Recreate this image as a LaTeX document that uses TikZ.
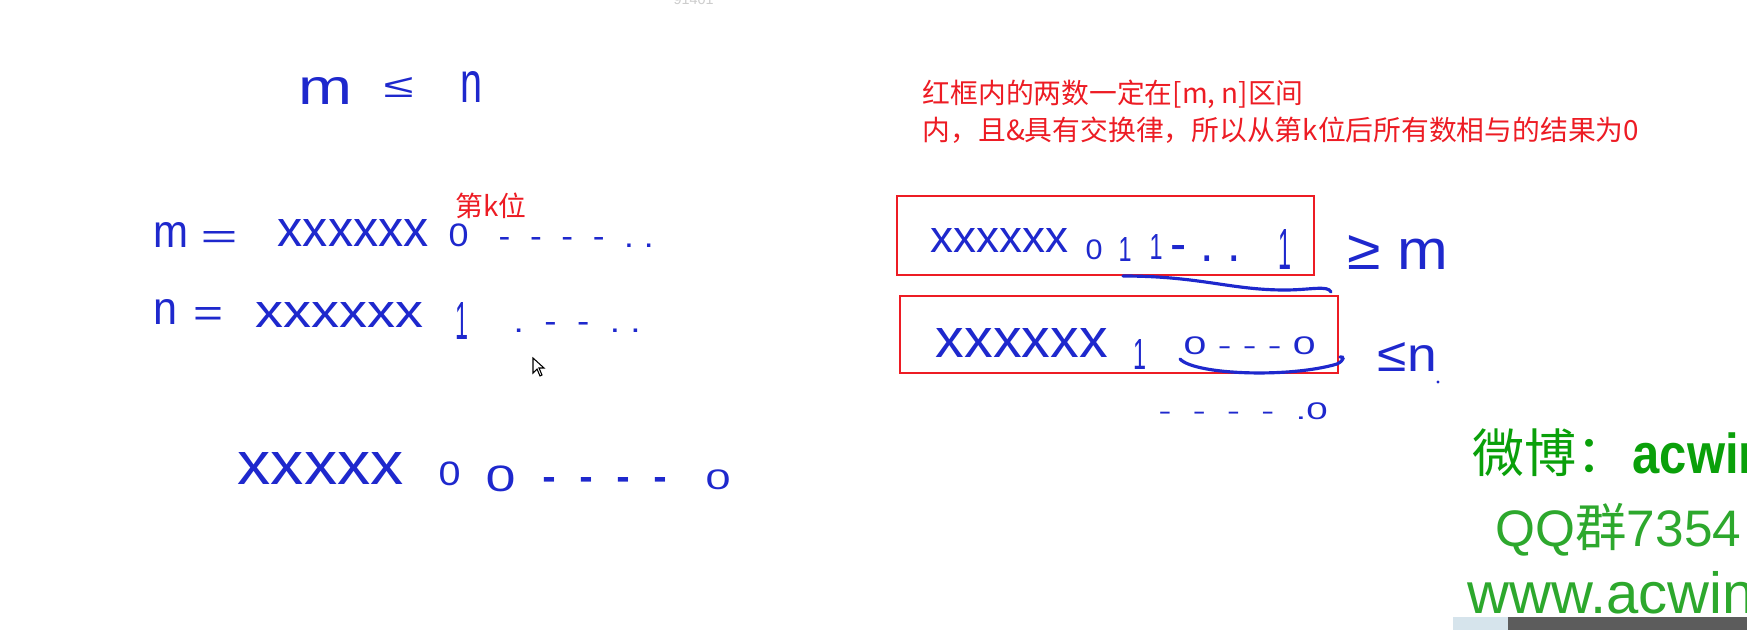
\documentclass[tikz,border=0pt]{standalone}
\usepackage{fontspec}
\setmainfont{Liberation Sans}
\newfontfamily\cjkfont{Noto Sans CJK SC}
\newfontfamily\handfont{Liberation Sans}
\usepackage{graphicx}
\usepackage{xcolor}
\usepackage{tikz}
\usetikzlibrary{positioning}
\definecolor{penblue}{RGB}{30,40,205}
\definecolor{notered}{RGB}{237,28,36}
\definecolor{markgreen}{RGB}{10,160,10}
\definecolor{markgreen2}{RGB}{45,168,45}
\definecolor{stampgray}{RGB}{205,205,205}
\definecolor{barlight}{RGB}{214,228,236}
\definecolor{bardark}{RGB}{92,92,92}
\newlength{\pxu}
\setlength{\pxu}{0.01cm}
\newcommand{\hw}[3]{\resizebox*{#1\pxu}{#2\pxu}{#3}}
\tikzset{
  pen/.style={text=penblue, font=\handfont, inner sep=0pt, anchor=south west},
  stroke/.style={draw=penblue, line width=0.9pt, line cap=round},
  redframe/.style={draw=notered, line width=0.8pt},
  note/.style={text=notered, font=\cjkfont\fontsize{7.9pt}{10pt}\selectfont,
    inner sep=0pt, anchor=base west},
  wmark/.style={text=markgreen, inner sep=0pt, anchor=base west},
}

\begin{document}
\begin{tikzpicture}[x=0.01cm, y=-0.01cm]
  \useasboundingbox (0,0) rectangle (1747,630);
  \clip (0,0) rectangle (1747,630);
  \fill[white] (0,0) rectangle (1747,630);
  \node[pen, text=stampgray] (stamp) at (673,5) {\hw{40}{10}{91401}};
  % left: m <= n
  \node[pen] (topm) at (298,105) {\hw{54}{27}{m}};
  \node[pen] (topleq) at (383,98) {\hw{30}{20}{≤}};
  \node[pen] (topn) at (460,103) {\hw{22}{31}{n}};
  \node[note] (kbit) at (455,216) {第k位};
  % m row
  \node[pen] (mname) at (153,248) {\hw{35}{25}{m}};
  \node[pen] (meq) at (200,249) {\hw{37}{17}{=}};
  \node[pen] (mhigh) at (277,247) {\hw{151}{27}{xxxxxx}};
  \node[pen] (mzero) at (448,248) {\hw{20}{23}{0}};
  \node[pen] (mtail) at (498,248) {\hw{155}{10}{-\ \ -\ \ -\ \ -\ \ .\ .}};
  % n row
  \node[pen] (nname) at (153,325) {\hw{24}{25}{n}};
  \node[pen] (neq) at (193,327) {\hw{30}{19}{=}};
  \node[pen] (nhigh) at (255,328) {\hw{168}{25}{xxxxxx}};
  \node[pen] (none) at (455,340) {\hw{13}{37}{1}};
  \node[pen] (ntail) at (513,333) {\hw{127}{10}{.\ \ -\ \ -\ \ .\ .}};
  % result row
  \node[pen] (rhigh) at (237,485) {\hw{166}{32}{xxxxx}};
  \node[pen] (rzeroa) at (438,487) {\hw{22}{24}{0}};
  \node[pen] (rzerob) at (485,493) {\hw{30}{26}{0}};
  \node[pen] (rtail) at (542,496) {\hw{125}{18}{-\ \ -\ \ -\ \ -}};
  \node[pen] (rzeroc) at (705,490) {\hw{25}{20}{0}};
  % cursor
  \draw[black, fill=white, line width=0.3pt] (533,358) -- (533,373) -- (537,369)
    -- (540,376) -- (542,375) -- (539,368) -- (544,368) -- cycle;
  % right: note
  \node[note] (notea) at (922,103) {红框内的两数一定在[m, n]区间};
  \node[note] (noteb) at (922,140) {内，且\&具有交换律，所以从第k位后所有数相与的结果为0};
  % upper frame
  \draw[redframe] (897,196) rectangle (1314,275);
  \node[pen] (ahigh) at (930,253) {\hw{138}{24}{xxxxxx}};
  \node[pen] (azero) at (1085,260) {\hw{17}{20}{0}};
  \node[pen] (aonea) at (1118,262) {\hw{13}{24}{1}};
  \node[pen] (aoneb) at (1149,260) {\hw{13}{25}{1}};
  \node[pen] (adots) at (1170,262) {\hw{70}{16}{-\ .\ .}};
  \node[pen] (aonec) at (1278,270) {\hw{13}{40}{1}};
  \node[pen] (ageq) at (1347,270) {\hw{101}{34}{≥ m}};
  \draw[stroke] (1123,276) .. controls (1200,276) and (1230,290) .. (1285,290)
    .. controls (1310,290) and (1328,285) .. (1331,292);
  % lower frame
  \draw[redframe] (900,296) rectangle (1338,373);
  \node[pen] (bhigh) at (935,358) {\hw{172}{29}{xxxxxx}};
  \node[pen] (bone) at (1133,370) {\hw{13}{30}{1}};
  \node[pen] (blow) at (1183,355) {\hw{132}{18}{0\ -\ -\ -\ 0}};
  \node[pen] (bleq) at (1377,372) {\hw{59}{29}{≤n}};
  \fill[penblue] (1438,382) circle (1.6);
  \draw[stroke] (1180,359) .. controls (1195,375) and (1290,378) .. (1337,364)
    .. controls (1345,360) and (1344,356) .. (1340,357);
  \node[pen] (ctail) at (1158,420) {\hw{169}{17}{-\ \ -\ \ -\ \ -\ \ .0}};
  % watermark
  \node[wmark, font=\cjkfont\fontsize{14.8pt}{16pt}\selectfont] (weibo) at (1472,472) {微博：};
  \node[wmark, font=\bfseries\fontsize{16pt}{18pt}\selectfont] (weiboid) at (1632,473) {\scalebox{0.87}[1]{acwin}};
  \node[wmark, text=markgreen2, font=\fontsize{14.6pt}{17pt}\selectfont] (qqgroup) at (1495,546) {QQ{\cjkfont 群}7354};
  \node[wmark, text=markgreen2, font=\fontsize{16.5pt}{18pt}\selectfont] (site) at (1467,613) {www.acwin};
  \fill[barlight] (1453,617) rectangle (1508,630);
  \fill[bardark] (1508,617) rectangle (1747,630);
\end{tikzpicture}
\end{document}
